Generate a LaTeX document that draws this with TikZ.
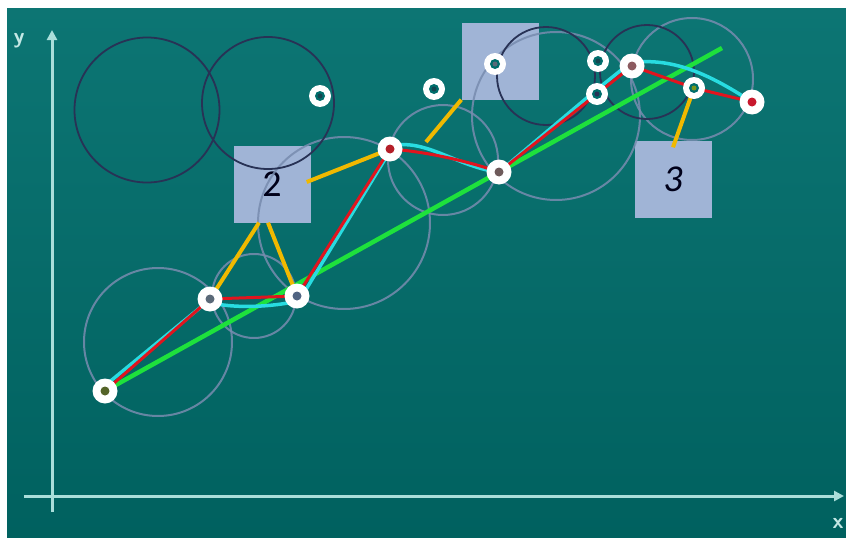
\documentclass[tikz,border=0pt]{standalone}
\usepackage{fontspec}
\setmainfont{Carlito}
\usetikzlibrary{calc,arrows.meta}
\definecolor{teal0}{RGB}{0,110,108}
\definecolor{axiscol}{RGB}{170,222,218}
\definecolor{sqcol}{RGB}{160,180,214}
\definecolor{graycirc}{RGB}{120,140,175}
\definecolor{darkcirc}{RGB}{40,50,85}
\definecolor{redl}{RGB}{225,20,30}
\definecolor{cyanl}{RGB}{40,220,225}
\definecolor{greenl}{RGB}{30,225,60}
\definecolor{yell}{RGB}{240,185,0}
\definecolor{dotA}{RGB}{90,105,120}
\definecolor{dotB}{RGB}{80,100,130}
\definecolor{dotC}{RGB}{110,90,90}
\definecolor{dotD}{RGB}{140,90,95}
\definecolor{dotE}{RGB}{120,150,30}
\definecolor{dotF}{RGB}{200,25,45}
\definecolor{dotG}{RGB}{85,100,40}
\definecolor{dotH}{RGB}{180,30,40}
\definecolor{dotS}{RGB}{20,70,80}
\tikzset{
  sqbox/.style={draw=none,fill=sqcol,minimum size=77pt,inner sep=0pt,font=\fontsize{38}{38}\selectfont,text=black!90!blue},
  gcirc/.style={draw=graycirc,line width=2pt,opacity=0.85},
  dcirc/.style={draw=darkcirc,line width=1.8pt},
  bigpt/.style={circle,fill=white,minimum size=25pt,inner sep=0pt,path picture={\fill[#1] (path picture bounding box.center) circle (4.5pt);}},
  smallpt/.style={circle,fill=white,minimum size=22pt,inner sep=0pt,path picture={\fill[teal0] (path picture bounding box.center) circle (5pt);\fill[#1] (path picture bounding box.center) circle (2.5pt);}},
  yline/.style={draw=yell,line width=4pt},
  axisline/.style={draw=axiscol,line width=3pt,-{Triangle[length=10pt,width=10pt]}},
  axlabel/.style={text=axiscol!70!white,font=\sffamily\bfseries\fontsize{22}{22}\selectfont}
}
\begin{document}
\begin{tikzpicture}[x=1pt,y=-1pt]
\useasboundingbox (0,0) rectangle (846,538);
\fill[white] (0,0) rectangle (846,538);
\shade[top color=teal0!95!white, bottom color=teal0!88!black] (7,8) rectangle (846,538);
% axes
\coordinate (ytop) at (52,30);
\coordinate (xend) at (844,496);
\coordinate (ybot) at (52,512);
\coordinate (xbeg) at (24,496);
\draw[axisline] (ybot) -- (ytop);
\draw[axisline] (xbeg) -- (xend);
\node[axlabel] (ylab) at (19,41) {y};
\node[axlabel] (xlab) at (838,523) {x};
% squares
\node[sqbox] (sq2) at (272,184) {2};
\node[sqbox] (sq1) at (500,61) {};
\node[sqbox] (sq3) at (673,179) {\itshape 3};
% gray circles
\draw[gcirc] (158,342) circle (74);
\draw[gcirc] (254,296) circle (42);
\draw[gcirc] (344,223) circle (86);
\draw[gcirc] (443,160) circle (55);
\draw[gcirc] (556,116) circle (84);
\draw[gcirc] (692,79) circle (61);
% dark circles
\draw[dcirc] (147,110) circle (72.5);
\draw[dcirc] (268,103) circle (66);
\draw[dcirc] (546,76) circle (49);
\draw[dcirc] (647,72) circle (47);
% point coordinates
\coordinate (p1) at (105,391);
\coordinate (p2) at (210,299);
\coordinate (p3) at (297,296);
\coordinate (p4) at (390,149);
\coordinate (p5) at (499,172);
\coordinate (p6) at (597,94);
\coordinate (p7) at (632,66);
\coordinate (p8) at (694,88);
\coordinate (p9) at (752,102);
\coordinate (g2) at (722,48);
\coordinate (yfree) at (426,142);
% green line
\draw[greenl,line width=4.5pt] (p1) -- (g2);
% cyan curve
\draw[cyanl,line width=3.5pt,line cap=round,line join=round] (102,388) -- (207,302)
  .. controls (235,309) and (270,307) .. (299,301) -- (393,146)
  .. controls (425,138) and (460,168) .. (p5) -- (595,91) -- (630,63)
  .. controls (675,56) and (715,78) .. (p9);
% red polyline
\draw[redl,line width=3pt,line join=round] (p1) -- (p2) -- (p3) -- (p4)
  .. controls (430,152) and (470,162) .. (p5) -- (p6) -- (p7) -- (p8) -- (p9);
% yellow connectors
\draw[yline] ($(sq2.east)+(-4,-2)$) -- (p4);
\draw[yline] ($(sq2.south)+(-13,0)$) -- (p2);
\draw[yline] ($(sq2.south)+(-4,0)$) -- (p3);
\draw[yline] (yfree) -- (sq1.south west);
\draw[yline] ($(sq3.north)+(0,7)$) -- (p8);
% points
\node[bigpt=dotG] (n1) at (p1) {};
\node[bigpt=dotA] (n2) at (p2) {};
\node[bigpt=dotB] (n3) at (p3) {};
\node[bigpt=dotH] (n4) at (p4) {};
\node[bigpt=dotC] (n5) at (p5) {};
\node[smallpt=darkcirc] (n6) at (p6) {};
\node[bigpt=dotD] (n7) at (p7) {};
\node[smallpt=dotE] (n8) at (p8) {};
\node[bigpt=dotF] (n9) at (p9) {};
\node[smallpt=dotS] (s1) at (320,96) {};
\node[smallpt=dotS] (s2) at (434,89) {};
\node[smallpt=dotA] (s3) at (495,64) {};
\node[smallpt=dotS] (s4) at (598,61) {};
\end{tikzpicture}
\end{document}
